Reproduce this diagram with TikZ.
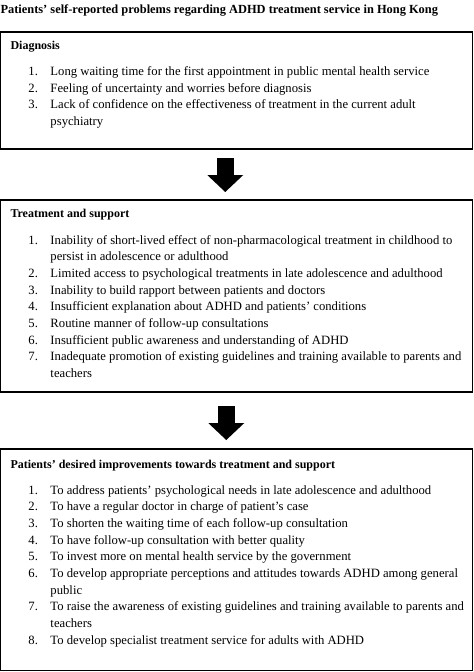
\documentclass[tikz,border=0pt]{standalone}
\usepackage{fontspec}
\setmainfont{Liberation Serif}
\usetikzlibrary{arrows.meta}

\tikzset{every picture/.style={line width=0.75pt}}
\tikzset{panel/.style={draw, line width=0.9pt, inner sep=0pt, outer sep=0pt, minimum width=354pt}}
\tikzset{heading/.style={anchor=base west, inner sep=0pt, font=\fontsize{9pt}{12.5pt}\selectfont\bfseries}}
\tikzset{itemlist/.style={anchor=base west, inner sep=0pt}}
\tikzset{bigarrow/.style={line width=12.4pt, -{Triangle[line width=0pt, width=27pt, length=12.75pt]}}}

\begin{document}
\begin{tikzpicture}[x=0.75pt,y=0.75pt,yscale=-1,xscale=1,font=\fontsize{9.5pt}{12.5pt}\selectfont]
\useasboundingbox (0,0) rectangle (474,672);

%Text: title
\draw (0,13) node [heading, font=\fontsize{9.3pt}{12.5pt}\selectfont\bfseries] (title) {Patients' self-reported problems regarding ADHD treatment service in Hong Kong};

%Shape: Rectangle [id:diag]
\draw (236.6,90.5) node [panel, minimum height=87.75pt] (diag) {};
%Shape: Rectangle [id:treat]
\draw (236.6,296) node [panel, minimum height=144pt] (treat) {};
%Shape: Rectangle [id:impr]
\draw (236.6,559.75) node [panel, minimum height=166.1pt] (impr) {};

%Down Arrow [id:arr1]
\draw [bigarrow, shorten <=6.75pt, shorten >=6pt] ([xshift=-8.5pt]diag.south) -- ([xshift=-8.5pt]treat.north) ;
%Down Arrow [id:arr2]
\draw [bigarrow, shorten <=10.5pt, shorten >=6.75pt] ([xshift=-7.75pt]treat.south) -- ([xshift=-7.75pt]impr.north) ;

%Text: diagnosis
\draw (10,49) node [heading] (diagh) {Diagnosis};
\draw (28,75.5) node [itemlist] (diagl) {\begin{tabular}[t]{@{}p{16.5pt}@{}l@{}}
1. & Long waiting time for the first appointment in public mental health service\\
2. & Feeling of uncertainty and worries before diagnosis\\
3. & Lack of confidence on the effectiveness of treatment in the current adult\\
   & psychiatry
\end{tabular}};

%Text: treatment and support
\draw (10,217.5) node [heading] (treath) {Treatment and support};
\draw (28,244) node [itemlist] (treatl) {\begin{tabular}[t]{@{}p{16.5pt}@{}l@{}}
1. & Inability of short-lived effect of non-pharmacological treatment in childhood to\\
   & persist in adolescence or adulthood\\
2. & Limited access to psychological treatments in late adolescence and adulthood\\
3. & Inability to build rapport between patients and doctors\\
4. & Insufficient explanation about ADHD and patients' conditions\\
5. & Routine manner of follow-up consultations\\
6. & Insufficient public awareness and understanding of ADHD\\
7. & Inadequate promotion of existing guidelines and training available to parents and\\
   & teachers
\end{tabular}};

%Text: desired improvements
\draw (10,468) node [heading] (imprh) {Patients' desired improvements towards treatment and support};
\draw (28,494) node [itemlist] (imprl) {\begin{tabular}[t]{@{}p{16.5pt}@{}l@{}}
1. & To address patients' psychological needs in late adolescence and adulthood\\
2. & To have a regular doctor in charge of patient's case\\
3. & To shorten the waiting time of each follow-up consultation\\
4. & To have follow-up consultation with better quality\\
5. & To invest more on mental health service by the government\\
6. & To develop appropriate perceptions and attitudes towards ADHD among general\\
   & public\\
7. & To raise the awareness of existing guidelines and training available to parents and\\
   & teachers\\
8. & To develop specialist treatment service for adults with ADHD
\end{tabular}};

\end{tikzpicture}
\end{document}
